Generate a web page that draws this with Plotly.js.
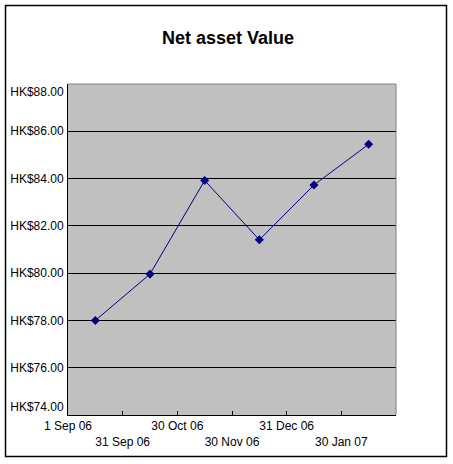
<!DOCTYPE html>
<html>
<head>
<meta charset="utf-8">
<script src="https://cdn.plot.ly/plotly-3.0.1.min.js"></script>
<style>html,body{margin:0;padding:0;background:#fff;}#chart{width:453px;height:464px;}</style>
</head>
<body>
<div id="chart"></div>
<script>
// Data
const tickLabels = ["1 Sep 06", "31 Sep 06", "30 Oct 06", "30 Nov 06", "31 Dec 06", "30 Jan 07"];
const navValues = [78.0, 79.96, 83.92, 81.41, 83.73, 85.45];
const yTicks = [74, 76, 78, 80, 82, 84, 86, 88];

const xPoints = navValues.map((v, i) => i + 0.5);
const tickPos = tickLabels.map((t, i) => i);
const tickText = tickLabels.map((t, i) => (i % 2 ? '<br>' + t : t));
// end labels sit inside the axis extent, as in the reference
const yText = yTicks.map((v, i) => {
  const s = 'HK$' + v.toFixed(2);
  if (i === 0) return s + '<br>\u00a0';
  if (i === yTicks.length - 1) return '\u00a0<br>' + s;
  return s;
});

const font = {family: 'Liberation Sans, Arial, sans-serif', size: 12, color: '#000'};

const trace = {
  x: xPoints,
  y: navValues,
  type: 'scatter',
  mode: 'lines+markers',
  line: {color: '#000080', width: 1},
  marker: {symbol: 'diamond', color: '#000080', size: 7},
  hoverinfo: 'y'
};

const L = 68, R = 396, T = 84, B = 415, W = 453, H = 464;
const px = v => (v - L) / (R - L);
const py = v => (B - v) / (B - T);

const layout = {
  width: W, height: H,
  margin: {l: L, r: W - R, t: T, b: H - B, pad: 0},
  paper_bgcolor: '#ffffff',
  plot_bgcolor: '#c0c0c0',
  font: font,
  showlegend: false,
  title: {
    text: '<b>Net asset Value</b>',
    font: {family: 'Liberation Sans, Arial, sans-serif', size: 18, color: '#000'},
    x: 221 / W, xanchor: 'center', xref: 'paper',
    y: 1 - 38 / H, yanchor: 'middle', yref: 'container'
  },
  xaxis: {
    range: [0, 6],
    tickmode: 'array',
    tickvals: tickPos,
    ticktext: tickText,
    tickangle: 0,
    ticks: 'inside', ticklen: 4, tickwidth: 1, tickcolor: '#000',
    showgrid: false, zeroline: false,
    showline: true, linecolor: '#000', linewidth: 1,
    tickfont: font, fixedrange: true, automargin: false
  },
  yaxis: {
    range: [74, 88],
    tickmode: 'array',
    tickvals: yTicks,
    ticktext: yText,
    ticks: '', showgrid: true, gridcolor: '#000', gridwidth: 1,
    zeroline: false, showline: true, linecolor: '#000', linewidth: 1,
    ticklabelstandoff: 1,
    tickfont: font, fixedrange: true, automargin: false
  },
  shapes: [
    {type: 'line', xref: 'paper', yref: 'paper', x0: 0, x1: 1, y0: 1, y1: 1, line: {color: '#808080', width: 1}, layer: 'above'},
    {type: 'line', xref: 'paper', yref: 'paper', x0: 1, x1: 1, y0: 0, y1: 1, line: {color: '#808080', width: 1}, layer: 'above'},
    {type: 'rect', xref: 'paper', yref: 'paper', x0: px(5.5), x1: px(446.5), y0: py(456.5), y1: py(5.5), line: {color: '#000', width: 1.5}, fillcolor: 'rgba(0,0,0,0)', layer: 'above'}
  ]
};

Plotly.newPlot('chart', [trace], layout, {displayModeBar: false, staticPlot: true});
</script>
</body>
</html>
